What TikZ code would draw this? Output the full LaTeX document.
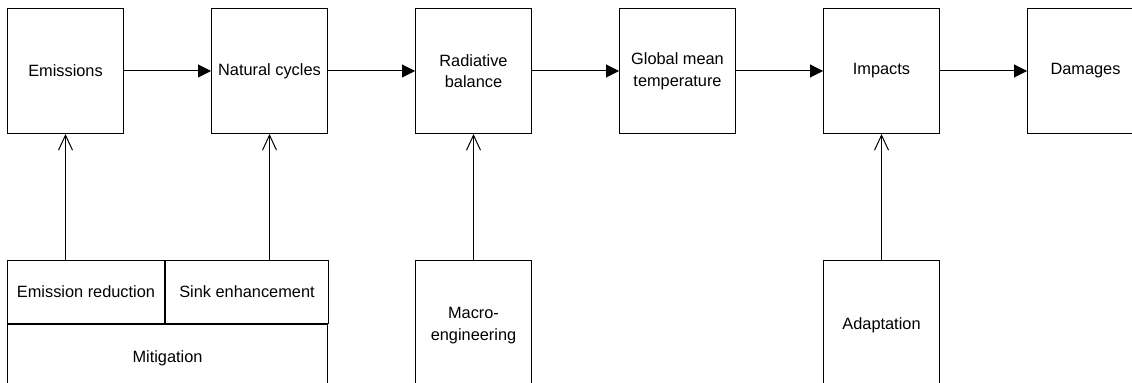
\documentclass[tikz,border=0pt]{standalone}
\usepackage{fontspec}
\setmainfont{Liberation Sans}
\usepackage{tikz}
\usetikzlibrary{arrows.meta, positioning, calc}

\begin{document}
\begin{tikzpicture}[node distance=1.74cm, auto,
    font=\fontsize{9.3}{12.3}\selectfont,
    box/.style={draw, line width=0.57pt, minimum width=2.32cm, minimum height=2.5cm, align=center, inner sep=2pt},
    lowbox/.style={box, minimum height=2.6cm},
    cell/.style={draw, line width=0.57pt, minimum height=1.26cm, inner sep=2pt},
    flow/.style={-{Triangle[length=2.6mm, width=2.6mm]}, line width=0.57pt},
    lever/.style={-{Straight Barb[length=3mm, width=2.8mm]}, line width=0.57pt}]
    \useasboundingbox (0,0) rectangle (22.64,-7.66);

    % Nodes
    \node (emissions) [box] at (1.31,-1.42) {Emissions};
    \node (natural) [box, right=of emissions] {Natural cycles};
    \node (radiative) [box, right=of natural] {Radiative\\balance};
    \node (temperature) [box, right=of radiative] {Global mean\\temperature};
    \node (impacts) [box, right=of temperature] {Impacts};
    \node (damages) [box, right=of impacts] {Damages};

    % Policy options below the chain
    \node (reduction) [cell, minimum width=3.14cm, below=2.52cm of emissions.south west, anchor=north west] {Emission reduction};
    \node (sink) [cell, minimum width=3.26cm, right=0pt of reduction] {Sink enhancement};
    \node (mitigation) [cell, minimum width=6.4cm, minimum height=1.34cm, below=0pt of reduction.south west, anchor=north west] {Mitigation};
    \node (macro) [lowbox, below=2.52cm of radiative.south, anchor=north] {Macro-\\engineering};
    \node (adaptation) [lowbox, below=2.52cm of impacts.south, anchor=north] {Adaptation};

    % Causal chain
    \draw [flow] (emissions) -- (natural);
    \draw [flow] (natural) -- (radiative);
    \draw [flow] (radiative) -- (temperature);
    \draw [flow] (temperature) -- (impacts);
    \draw [flow] (impacts) -- (damages);

    % Interventions
    \draw [lever] (reduction.north -| emissions) -- (emissions);
    \draw [lever] (sink.north -| natural) -- (natural);
    \draw [lever] (macro) -- (radiative);
    \draw [lever] (adaptation) -- (impacts);
\end{tikzpicture}
\end{document}
